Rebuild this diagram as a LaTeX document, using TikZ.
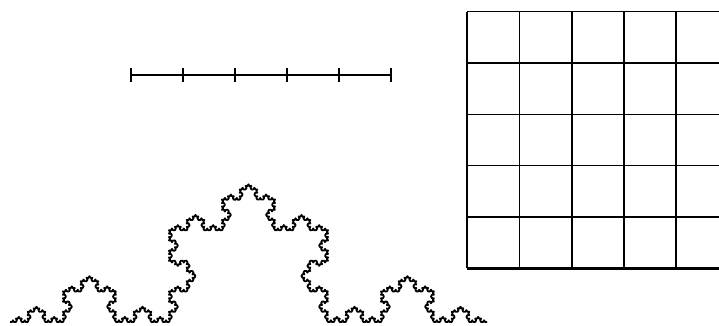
\documentclass[tikz,border=0pt]{standalone}
\usetikzlibrary{decorations.fractals}
\begin{document}
\begin{tikzpicture}[x=1pt,y=1pt,
  rulerline/.style={line width=1.4pt},
  tickline/.style={line width=1.4pt},
  gridline/.style={line width=1.6pt},
  kochline/.style={line width=1.8pt,line join=round,decoration=Koch snowflake}]
\useasboundingbox (0,0) rectangle (719,326);
\clip (0,0) rectangle (719,326);
% ruler
\coordinate (r0) at (131,251);
\coordinate (r5) at (391,251);
\draw[rulerline] (r0) -- (r5);
\foreach \i in {0,...,5}{
  \draw[tickline] (131+52*\i,244) -- (131+52*\i,258);
}
% grid
\foreach \i in {0,...,5}{
  \draw[gridline] (467.3+52.2*\i,314.3) -- (467.3+52.2*\i,57.7);
}
\foreach \j in {0,...,5}{
  \draw[gridline] (467.3,314.3-51.32*\j) -- (725,314.3-51.32*\j);
}
\draw[line width=2.6pt] (467.3,57.7) -- (725,57.7);
\draw[line width=2.2pt] (467.3,57.7) -- (467.3,314.3);
% Koch curve
\coordinate (k0) at (10,4);
\coordinate (k1) at (487,4);
\draw[kochline] decorate{decorate{decorate{decorate{decorate{(k0) -- (k1)}}}}};
\end{tikzpicture}
\end{document}
